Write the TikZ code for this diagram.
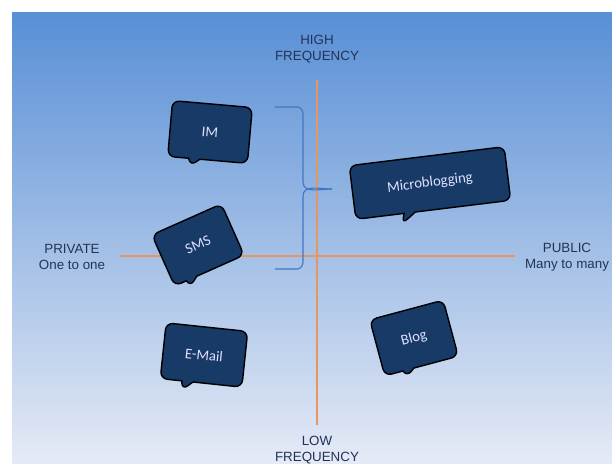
\documentclass[tikz,border=0pt]{standalone}
\usepackage{xcolor}
\usepackage{fontspec}
\setmainfont{Liberation Sans}
\newfontfamily\calloutfont{Carlito}
\usepackage{tikz}
\usetikzlibrary{shapes.callouts,positioning}

\definecolor{bubblenavy}{RGB}{24,58,102}
\definecolor{labelnavy}{RGB}{33,52,86}
\definecolor{axisorange}{RGB}{232,150,95}
\definecolor{bracketblue}{RGB}{66,118,196}
\definecolor{skytop}{RGB}{88,143,213}
\definecolor{skybottom}{RGB}{229,234,246}

\begin{document}
\begin{tikzpicture}[x=0.025cm, y=-0.025cm,
	bubble/.style={draw=black, line width=1pt, fill=bubblenavy, text=white!88!blue,
		rectangle callout, rounded corners=5pt, callout pointer width=8pt,
		minimum height=1.4cm, font=\calloutfont\fontsize{10.5}{12}\selectfont},
	axislabel/.style={text=labelnavy, align=center, font=\fontsize{9.5}{11.5}\selectfont},
	axis/.style={axisorange, line width=0.8pt},
	bracket/.style={bracketblue, line width=0.8pt}]

	\useasboundingbox (0,0) rectangle (612,463);
	\shade[top color=skytop, bottom color=skybottom] (12,12) rectangle (612,463);

	% axes
	\coordinate (high end) at (317,80);
	\coordinate (low end) at (317,425);
	\coordinate (private end) at (120,256);
	\coordinate (public end) at (515,256);
	\draw[axis] (high end) -- (low end);
	\draw[axis] (private end) -- (public end);

	\node[axislabel, above=0.3cm of high end] (high) {HIGH\\FREQUENCY};
	\node[axislabel, below=0.15cm of low end] (low) {LOW\\FREQUENCY};
	\node[axislabel] (private) at (72,257) {PRIVATE\\One to one};
	\node[axislabel] (public) at (567,257) {PUBLIC\\Many to many};

	% speech bubbles, tails end at these points
	\coordinate (im tail) at (190,166);
	\coordinate (sms tail) at (190,287);
	\coordinate (micro tail) at (402,224);
	\coordinate (email tail) at (182,390);
	\coordinate (blog tail) at (407,377);

	\node[bubble, minimum width=2cm, rotate=-5, callout absolute pointer={(im tail)}] (im) at (210,132) {IM};
	\node[bubble, minimum width=1.9cm, rotate=24, callout absolute pointer={(sms tail)}] (sms) at (198,245) {SMS};
	\node[bubble, minimum width=3.9cm, minimum height=1.35cm, rotate=7, callout absolute pointer={(micro tail)}] (micro) at (430,183) {Microblogging};
	\node[bubble, minimum width=2.05cm, rotate=-6, callout absolute pointer={(email tail)}] (email) at (204,355) {E-Mail};
	\node[bubble, minimum width=1.9cm, minimum height=1.45cm, rotate=15, callout absolute pointer={(blog tail)}] (blog) at (414,338) {Blog};

	% brace round IM and SMS
	\coordinate (brace top) at (275,107);
	\coordinate (brace tip) at (332,189);
	\coordinate (brace bottom) at (275,269);
	\draw[bracket] (brace top) -- (297,107) to[out=0,in=90] (303,114) -- (303,182) to[out=-90,in=180] (brace tip);
	\draw[bracket] (brace bottom) -- (297,269) to[out=0,in=-90] (303,262) -- (303,196) to[out=90,in=180] (brace tip);
\end{tikzpicture}
\end{document}
